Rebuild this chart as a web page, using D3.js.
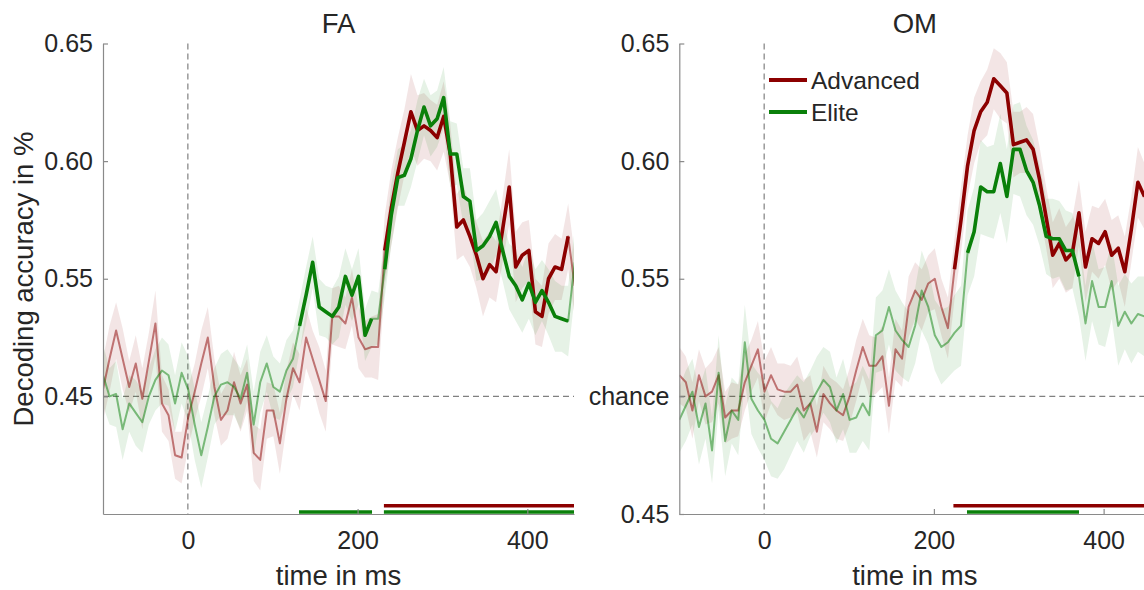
<!DOCTYPE html>
<html>
<head>
<meta charset="utf-8">
<script src="https://cdn.jsdelivr.net/npm/d3@7"></script>
<style>
  html, body { margin: 0; padding: 0; background: #fff; }
  svg { display: block; }
  text { font-family: "Liberation Sans", Arial, Helvetica, sans-serif; fill: #262626; }
</style>
</head>
<body>
<svg id="chart" width="1144" height="590"></svg>
<script>
// ---------------- DATA ----------------
const panelTitles = ["FA", "OM"];
const seriesNames = ["Advanced", "Elite"];
const xTicks = [0, 200, 400];
const yTicksLeft = [0.65, 0.60, 0.55, 0.50];
const yTickLabelsLeft = ["0.65", "0.60", "0.55", "0.45"];
const yTicksRight = [0.65, 0.60, 0.55, 0.50, 0.45];
const yTickLabelsRight = ["0.65", "0.60", "0.55", "chance", "0.45"];
const chanceLevel = 0.50;
const sampleStep = 7.72;   // ms between samples
const firstSample = -100;  // ms

// FA – Advanced
const faAdvanced = [
0.503,0.516,0.528,0.516,0.504,0.514,0.499,0.515,0.531,0.497,
0.492,0.475,0.474,0.491,0.502,0.514,0.525,0.504,0.490,0.494,
0.506,0.497,0.505,0.476,0.473,0.494,0.494,0.480,0.499,0.512,
0.506,0.525,0.516,0.507,0.498,0.534,0.534,0.531,0.542,0.525,
0.520,0.521,0.521,0.562,0.580,0.595,0.608,0.621,0.613,0.615,
0.613,0.610,0.619,0.603,0.572,0.575,0.568,0.560,0.550,0.556,
0.553,0.571,0.589,0.555,0.560,0.562,0.536,0.534,0.550,0.555,
0.554,0.568,0.547];
// FA – Elite
const faElite = [
0.509,0.500,0.501,0.486,0.497,0.493,0.489,0.500,0.507,0.511,
0.509,0.497,0.510,0.503,0.488,0.475,0.487,0.500,0.505,0.506,
0.504,0.499,0.510,0.488,0.506,0.514,0.504,0.502,0.511,0.516,
0.530,0.543,0.557,0.538,0.536,0.534,0.538,0.551,0.543,0.551,
0.526,0.533,0.533,0.554,0.577,0.593,0.594,0.601,0.613,0.623,
0.615,0.618,0.627,0.603,0.603,0.585,0.583,0.562,0.564,0.568,
0.574,0.562,0.551,0.547,0.541,0.548,0.540,0.545,0.540,0.534,
0.533,0.532,0.557];
// OM – Advanced
const omAdvanced = [
0.509,0.506,0.494,0.509,0.500,0.502,0.509,0.491,0.494,0.494,
0.506,0.513,0.520,0.502,0.509,0.503,0.502,0.502,0.505,0.494,
0.497,0.485,0.501,0.497,0.494,0.492,0.500,0.511,0.521,0.513,
0.513,0.517,0.496,0.520,0.516,0.538,0.545,0.541,0.548,0.550,
0.538,0.529,0.554,0.575,0.598,0.613,0.621,0.625,0.635,0.632,
0.629,0.607,0.608,0.609,0.605,0.592,0.576,0.560,0.565,0.558,
0.561,0.578,0.555,0.567,0.565,0.570,0.560,0.563,0.553,0.571,
0.591,0.585,0.575];
// OM – Elite
const omElite = [
0.490,0.496,0.502,0.487,0.497,0.477,0.510,0.481,0.494,0.490,
0.523,0.499,0.494,0.490,0.482,0.480,0.485,0.490,0.495,0.491,
0.497,0.502,0.507,0.504,0.494,0.501,0.490,0.491,0.497,0.492,
0.526,0.528,0.538,0.528,0.524,0.521,0.530,0.545,0.538,0.526,
0.521,0.523,0.527,0.530,0.561,0.570,0.589,0.587,0.587,0.599,
0.585,0.605,0.605,0.596,0.591,0.581,0.568,0.567,0.567,0.562,
0.562,0.551,0.531,0.549,0.538,0.538,0.549,0.530,0.536,0.531,
0.535,0.534,0.537];

// confidence half-widths
const faAdvancedCI = [
0.013,0.014,0.012,0.013,0.011,0.012,0.013,0.012,0.014,0.012,
0.011,0.010,0.011,0.013,0.012,0.014,0.013,0.012,0.011,0.012,
0.013,0.012,0.011,0.012,0.013,0.012,0.011,0.013,0.012,0.011,
0.012,0.013,0.012,0.014,0.013,0.012,0.013,0.011,0.012,0.013,
0.012,0.013,0.014,0.015,0.016,0.015,0.014,0.016,0.015,0.014,
0.013,0.014,0.015,0.013,0.014,0.015,0.013,0.014,0.016,0.014,
0.013,0.014,0.016,0.015,0.014,0.013,0.014,0.013,0.015,0.014,
0.013,0.014,0.013];
const faEliteCI = [
0.013,0.012,0.014,0.013,0.012,0.014,0.013,0.012,0.013,0.014,
0.013,0.012,0.013,0.014,0.015,0.014,0.013,0.012,0.013,0.014,
0.012,0.013,0.012,0.014,0.013,0.012,0.013,0.012,0.013,0.012,
0.011,0.012,0.011,0.012,0.011,0.012,0.013,0.012,0.011,0.012,
0.011,0.012,0.011,0.012,0.013,0.012,0.013,0.012,0.013,0.012,
0.013,0.012,0.013,0.014,0.013,0.012,0.014,0.013,0.014,0.015,
0.014,0.013,0.014,0.015,0.014,0.015,0.014,0.013,0.014,0.015,
0.014,0.015,0.014];
const omAdvancedCI = [
0.012,0.011,0.012,0.011,0.012,0.013,0.012,0.011,0.012,0.011,
0.012,0.011,0.012,0.013,0.012,0.011,0.012,0.011,0.012,0.013,
0.012,0.011,0.012,0.011,0.012,0.011,0.012,0.013,0.012,0.013,
0.012,0.013,0.012,0.013,0.012,0.013,0.012,0.013,0.012,0.013,
0.012,0.013,0.013,0.014,0.013,0.014,0.013,0.014,0.013,0.014,
0.013,0.014,0.013,0.014,0.015,0.014,0.013,0.014,0.015,0.014,
0.015,0.014,0.015,0.014,0.015,0.014,0.015,0.014,0.015,0.014,
0.015,0.014,0.015];
const omEliteCI = [
0.014,0.015,0.014,0.016,0.015,0.014,0.016,0.015,0.014,0.015,
0.016,0.015,0.016,0.017,0.016,0.015,0.016,0.015,0.014,0.015,
0.014,0.015,0.014,0.015,0.014,0.015,0.014,0.015,0.016,0.015,
0.016,0.017,0.016,0.017,0.016,0.015,0.016,0.017,0.016,0.015,
0.016,0.015,0.016,0.017,0.018,0.019,0.020,0.019,0.020,0.021,
0.020,0.019,0.020,0.019,0.018,0.017,0.016,0.017,0.016,0.017,
0.016,0.017,0.016,0.017,0.016,0.017,0.016,0.017,0.016,0.017,
0.016,0.017,0.016];

// significant windows (ms)
const faAdvancedSig = [[231, 455]];
const faEliteSig = [[131, 217], [231, 455]];
const omAdvancedSig = [[223, 455]];
const omEliteSig = [[239, 371]];

// ---------------- STYLE ----------------
const colAdv = "#8c0000";
const colElite = "#0a800a";
const axisGray = "#8a8a8a";

const svg = d3.select("#chart");
const times = faAdvanced.map((_, k) => firstSample + sampleStep * k);

const panels = [
  { title: panelTitles[0], left: 103, right: 574,
    adv: faAdvanced, advCI: faAdvancedCI, advSig: faAdvancedSig,
    eli: faElite, eliCI: faEliteCI, eliSig: faEliteSig,
    yTicks: yTicksLeft, yLabels: yTickLabelsLeft, legend: false, id: 0 },
  { title: panelTitles[1], left: 679.3, right: 1150.3,
    adv: omAdvanced, advCI: omAdvancedCI, advSig: omAdvancedSig,
    eli: omElite, eliCI: omEliteCI, eliSig: omEliteSig,
    yTicks: yTicksRight, yLabels: yTickLabelsRight, legend: true, id: 1 }
];

const plotTop = 43.5, plotBottom = 514;

panels.forEach(p => {
  const x = d3.scaleLinear().domain([-100, 455]).range([p.left, p.right]);
  const y = d3.scaleLinear().domain([0.45, 0.65]).range([plotBottom, plotTop]);
  const g = svg.append("g");

  const clipId = "clip" + p.id;
  svg.append("clipPath").attr("id", clipId).append("rect")
    .attr("x", p.left).attr("y", 0).attr("width", p.right - p.left).attr("height", plotBottom);
  const plot = g.append("g").attr("clip-path", `url(#${clipId})`);

  // reference lines
  plot.append("line")
    .attr("x1", x(0)).attr("x2", x(0)).attr("y1", plotTop).attr("y2", plotBottom)
    .attr("stroke", "#808080").attr("stroke-width", 1.2).attr("stroke-dasharray", "6,4");
  plot.append("line")
    .attr("x1", p.left).attr("x2", p.right).attr("y1", y(chanceLevel)).attr("y2", y(chanceLevel))
    .attr("stroke", "#808080").attr("stroke-width", 1.2).attr("stroke-dasharray", "6,4");

  const series = [
    { v: p.adv, ci: p.advCI, sig: p.advSig, col: colAdv, barY: 505.7 },
    { v: p.eli, ci: p.eliCI, sig: p.eliSig, col: colElite, barY: 512 }
  ];

  const area = d3.area()
    .x(d => x(d.t)).y0(d => y(d.v - d.c)).y1(d => y(d.v + d.c));
  const line = d3.line().x(d => x(d.t)).y(d => y(d.v));

  const pts = series.map(s => s.v.map((v, k) => ({ t: times[k], v: v, c: s.ci[k] })));

  series.forEach((s, i) => {
    plot.append("path").datum(pts[i]).attr("d", area)
      .attr("fill", s.col).attr("fill-opacity", 0.1).attr("stroke", "none");
  });
  series.forEach((s, i) => {
    plot.append("path").datum(pts[i]).attr("d", line)
      .attr("fill", "none").attr("stroke", s.col).attr("stroke-opacity", 0.5)
      .attr("stroke-width", 2).attr("stroke-linejoin", "round");
  });
  series.forEach((s, i) => {
    s.sig.forEach(w => {
      const seg = pts[i].filter(d => d.t >= w[0] && d.t <= w[1]);
      plot.append("path").datum(seg).attr("d", line)
        .attr("fill", "none").attr("stroke", s.col)
        .attr("stroke-width", 3.6).attr("stroke-linejoin", "round");
    });
  });
  series.forEach(s => {
    s.sig.forEach(w => {
      plot.append("line")
        .attr("x1", x(w[0])).attr("x2", x(w[1])).attr("y1", s.barY).attr("y2", s.barY)
        .attr("stroke", s.col).attr("stroke-width", 3.5);
    });
  });

  const yAxis = d3.axisLeft(y).tickValues(p.yTicks)
    .tickFormat((d, i) => p.yLabels[i]).tickSizeInner(-5).tickSizeOuter(0).tickPadding(10);
  const gy = g.append("g").attr("transform", `translate(${p.left},0)`).call(yAxis);
  const xAxis = d3.axisBottom(x).tickValues(xTicks)
    .tickFormat(d3.format("d")).tickSizeInner(-5).tickSizeOuter(0).tickPadding(17);
  const gx = g.append("g").attr("transform", `translate(0,${plotBottom})`).call(xAxis);
  [gx, gy].forEach(ax => {
    ax.select(".domain").attr("stroke", axisGray).attr("stroke-width", 1.2);
    ax.selectAll(".tick line").attr("stroke", axisGray).attr("stroke-width", 1.2);
    ax.selectAll(".tick text").attr("font-size", 25)
      .attr("font-family", '"Liberation Sans", Arial, sans-serif').attr("fill", "#262626");
  });
  gx.selectAll(".tick line").filter(d => d === 0).remove();

  g.append("text").attr("x", (p.left + p.right) / 2).attr("y", 33)
    .attr("text-anchor", "middle").attr("font-size", 27.5).text(p.title);
  g.append("text").attr("x", (p.left + p.right) / 2).attr("y", 585)
    .attr("text-anchor", "middle").attr("font-size", 27.5).text("time in ms");

  if (p.legend) {
    const lg = g.append("g");
    [colAdv, colElite].forEach((c, i) => {
      const yy = 80 + i * 32;
      lg.append("line").attr("x1", 769).attr("x2", 807).attr("y1", yy).attr("y2", yy)
        .attr("stroke", c).attr("stroke-width", 4);
      lg.append("text").attr("x", 811).attr("y", yy + 9).attr("font-size", 24.5)
        .text(seriesNames[i]);
    });
  }
});

svg.append("text")
  .attr("transform", "translate(33,279) rotate(-90)")
  .attr("text-anchor", "middle").attr("font-size", 27.5)
  .text("Decoding accuracy in %");
</script>
</body>
</html>
